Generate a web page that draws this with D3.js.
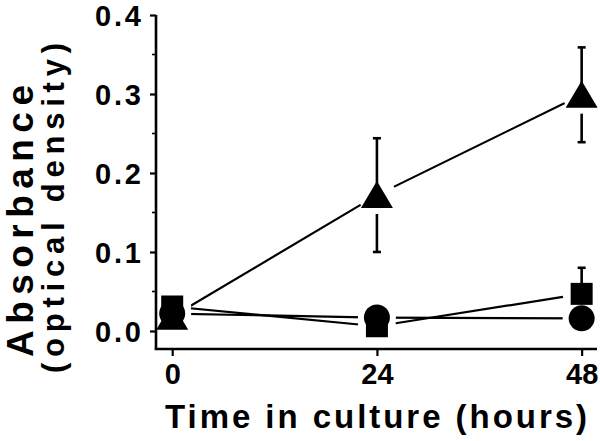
<!DOCTYPE html>
<html><head><meta charset="utf-8">
<script src="https://cdn.jsdelivr.net/npm/d3@7"></script>
<style>
html,body{margin:0;padding:0;background:#fff;}
svg{display:block;font-family:"Liberation Sans",Arial,sans-serif;font-weight:bold;}
</style></head>
<body>
<svg id="chart" width="600" height="441"></svg>
<script>
// ---- data ----
const hours = [0, 24, 48];
const triangleMean = [0.018, 0.172, 0.299];
const triangleErr  = [0.020, 0.072, 0.060];
const circleMean   = [0.022, 0.017, 0.016];
const circleErr    = [0.004, 0.004, 0.004];
const squareMean   = [0.031, 0.006, 0.047];
const squareErr    = [0.005, 0.005, 0.033];
const xTicks = [0, 24, 48];
const yTicks = [0.0, 0.1, 0.2, 0.3, 0.4];
const yMinorTicks = [0.05, 0.15, 0.25, 0.35];

const series = [
  {name: "triangle", mean: triangleMean, err: triangleErr},
  {name: "circle",   mean: circleMean,   err: circleErr},
  {name: "square",   mean: squareMean,   err: squareErr}
];

const svg = d3.select("#chart");
const x = d3.scaleLinear().domain([-1.9, 49.8]).range([156, 597]);
const y = d3.scaleLinear().domain([-0.0228, 0.4]).range([349, 15]);

const pts = series.map(s => s.mean.map((m, i) => ({s: s.name, h: hours[i], m, e: s.err[i]})));
const allPts = pts.flat();

// lines
const line = d3.line().x(d => x(d.h)).y(d => y(d.m));
svg.append("g").selectAll("path").data(pts).join("path")
  .attr("d", line).attr("fill", "none").attr("stroke", "#000").attr("stroke-width", 2.2);

// lower error bars (get cut by halo)
const eb = svg.append("g").attr("stroke", "#000").attr("stroke-width", 2.6);
allPts.forEach(d => {
  eb.append("line").attr("x1", x(d.h)).attr("x2", x(d.h)).attr("y1", y(d.m)).attr("y2", y(d.m - d.e));
  eb.append("line").attr("x1", x(d.h) - 4).attr("x2", x(d.h) + 4).attr("y1", y(d.m - d.e)).attr("y2", y(d.m - d.e));
});

// white halos around markers
svg.append("g").selectAll("circle").data(allPts).join("circle")
  .attr("cx", d => x(d.h)).attr("cy", d => y(d.m)).attr("r", 19).attr("fill", "#fff");

// axes
const yAxis = svg.append("g").attr("transform", `translate(${x.range()[0]},0)`)
  .call(d3.axisLeft(y).tickValues(yTicks).tickSize(6).tickPadding(9).tickFormat(d3.format(".1f")));
yAxis.select(".domain").attr("d", `M0,${y.range()[1]}V${y.range()[0]}`).attr("stroke-width", 2.6);
yAxis.selectAll(".tick line").attr("stroke-width", 2.2);
yAxis.selectAll(".tick text").attr("font-size", 29).attr("font-weight", "bold").attr("font-family", "Liberation Sans, Arial, sans-serif")
  .attr("textLength", 46).attr("lengthAdjust", "spacing").attr("dy", "0.36em").attr("fill", "#000");
svg.append("g").selectAll("line").data(yMinorTicks).join("line")
  .attr("x1", x.range()[0] - 4).attr("x2", x.range()[0]).attr("y1", d => y(d)).attr("y2", d => y(d))
  .attr("stroke", "#000").attr("stroke-width", 1.6);

const xAxis = svg.append("g").attr("transform", `translate(0,${y.range()[0]})`)
  .call(d3.axisBottom(x).tickValues(xTicks).tickSize(7).tickPadding(7));
xAxis.select(".domain").attr("d", `M${x.range()[0] - 1.3},0H${x.range()[1]}`).attr("stroke-width", 2.6);
xAxis.selectAll(".tick line").attr("stroke-width", 2.2);
xAxis.selectAll(".tick text").attr("font-size", 29).attr("font-weight", "bold").attr("font-family", "Liberation Sans, Arial, sans-serif")
  .attr("fill", "#000").attr("dy", "0.72em");

// upper error bars (drawn over halos)
const eu = svg.append("g").attr("stroke", "#000").attr("stroke-width", 2.6);
allPts.forEach(d => {
  eu.append("line").attr("x1", x(d.h)).attr("x2", x(d.h)).attr("y1", y(d.m)).attr("y2", y(d.m + d.e));
  eu.append("line").attr("x1", x(d.h) - 4).attr("x2", x(d.h) + 4).attr("y1", y(d.m + d.e)).attr("y2", y(d.m + d.e));
});

// markers
const mk = svg.append("g").attr("fill", "#000");
pts.forEach(arr => arr.forEach(d => {
  const cx = x(d.h), cy = y(d.m);
  if (d.s === "square") {
    mk.append("rect").attr("x", cx - 11).attr("y", cy - 11).attr("width", 22).attr("height", 22);
  } else if (d.s === "circle") {
    mk.append("circle").attr("cx", cx).attr("cy", cy).attr("r", 13);
  } else {
    mk.append("path").attr("d", `M${cx},${cy - 14}L${cx + 16},${cy + 13}L${cx - 16},${cy + 13}Z`);
  }
}));

// titles
svg.append("text").attr("x", 376).attr("y", 428).attr("text-anchor", "middle")
  .attr("font-size", 33).attr("textLength", 422).attr("lengthAdjust", "spacing")
  .text("Time in culture (hours)");
svg.append("text").attr("transform", "translate(33,221) rotate(-90)").attr("text-anchor", "middle")
  .attr("font-size", 37).attr("textLength", 272).attr("lengthAdjust", "spacing")
  .text("Absorbance");
svg.append("text").attr("transform", "translate(64,208) rotate(-90)").attr("text-anchor", "middle")
  .attr("font-size", 31).attr("textLength", 330).attr("lengthAdjust", "spacing")
  .text("(optical density)");
</script>
</body></html>
